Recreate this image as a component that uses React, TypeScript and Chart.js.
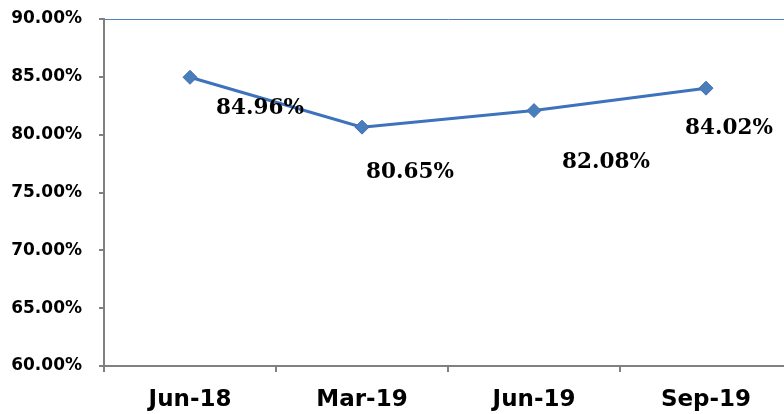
import React, { useEffect, useRef } from "react";
import { Chart, registerables } from "chart.js";

Chart.register(...registerables);

const categories = ["Jun-18", "Mar-19", "Jun-19", "Sep-19"];
const ratioValues = [84.96, 80.65, 82.08, 84.02];
const yMin = 60;
const yMax = 90;
const yStep = 5;

// label placement (style): offsets in px from each point
const labelOffsets = [
  [70, 31],
  [48, 45],
  [72, 52],
  [23, 40],
];

const dataLabelPlugin = {
  id: "dataLabels",
  afterDatasetsDraw(chart: any) {
    const meta = chart.getDatasetMeta(0);
    const ctx = chart.ctx;
    ctx.save();
    ctx.font = "bold 21.5px 'DejaVu Serif', serif";
    ctx.fillStyle = "#000";
    ctx.textAlign = "center";
    ctx.textBaseline = "middle";
    meta.data.forEach((pt: any, i: number) => {
      const off = labelOffsets[i] || [0, 0];
      ctx.fillText(ratioValues[i].toFixed(2) + "%", pt.x + off[0], pt.y + off[1]);
    });
    ctx.restore();
  },
};

const topLinePlugin = {
  id: "topLine",
  beforeDatasetsDraw(chart: any) {
    const { ctx, chartArea } = chart;
    ctx.save();
    ctx.strokeStyle = "#4f81bd";
    ctx.lineWidth = 1;
    ctx.beginPath();
    ctx.moveTo(chartArea.left + 1, chartArea.top + 0.5);
    ctx.lineTo(chartArea.right, chartArea.top + 0.5);
    ctx.stroke();
    ctx.restore();
  },
};

export default function App() {
  const ref = useRef<HTMLCanvasElement>(null);
  useEffect(() => {
    if (!ref.current) return;
    const chart = new Chart(ref.current, {
      type: "line",
      data: {
        labels: categories,
        datasets: [
          {
            data: ratioValues,
            borderColor: "#3d72bd",
            borderWidth: 3,
            backgroundColor: "#4a7ebb",
            pointStyle: "rectRot",
            pointRadius: 7,
            pointBackgroundColor: "#4a7ebb",
            pointBorderColor: "#3f6fb0",
            pointBorderWidth: 1,
            tension: 0,
          },
        ],
      },
      options: {
        animation: false,
        responsive: false,
        devicePixelRatio: 1,
        layout: { padding: { top: 19, right: 8, left: 0, bottom: 0 } },
        plugins: { legend: { display: false }, tooltip: { enabled: false } },
        scales: {
          x: {
            offset: true,
            grid: {
              offset: true,
              drawOnChartArea: false,
              tickLength: 6,
              color: "#808080",
              lineWidth: 2,
            },
            border: { color: "#808080", width: 2 },
            ticks: {
              color: "#000",
              padding: 14,
              font: { family: "'DejaVu Sans', sans-serif", size: 23, weight: "bold" },
            },
            afterFit(scale: any) {
              scale.height = 48;
              scale.paddingLeft = 0;
              scale.paddingRight = 0;
            },
          },
          y: {
            min: yMin,
            max: yMax,
            grid: {
              drawOnChartArea: false,
              tickLength: 5,
              color: "#808080",
              lineWidth: 2,
            },
            border: { color: "#808080", width: 2 },
            ticks: {
              stepSize: yStep,
              color: "#000",
              padding: 17,
              font: { family: "'DejaVu Sans', sans-serif", size: 17, weight: "bold" },
              callback: (v: any) => Number(v).toFixed(2) + "%",
            },
            afterFit(scale: any) {
              scale.width = 104;
              scale.paddingTop = 0;
              scale.paddingBottom = 0;
            },
          },
        },
      },
      plugins: [topLinePlugin, dataLabelPlugin],
    });
    return () => chart.destroy();
  }, []);
  return (
    <div
      style={{
        position: "fixed",
        left: 0,
        top: 0,
        width: 784,
        height: 414,
        overflow: "hidden",
        background: "#fff",
      }}
    >
      <canvas ref={ref} width={800} height={414} style={{ width: 800, height: 414, display: "block" }} />
    </div>
  );
}
